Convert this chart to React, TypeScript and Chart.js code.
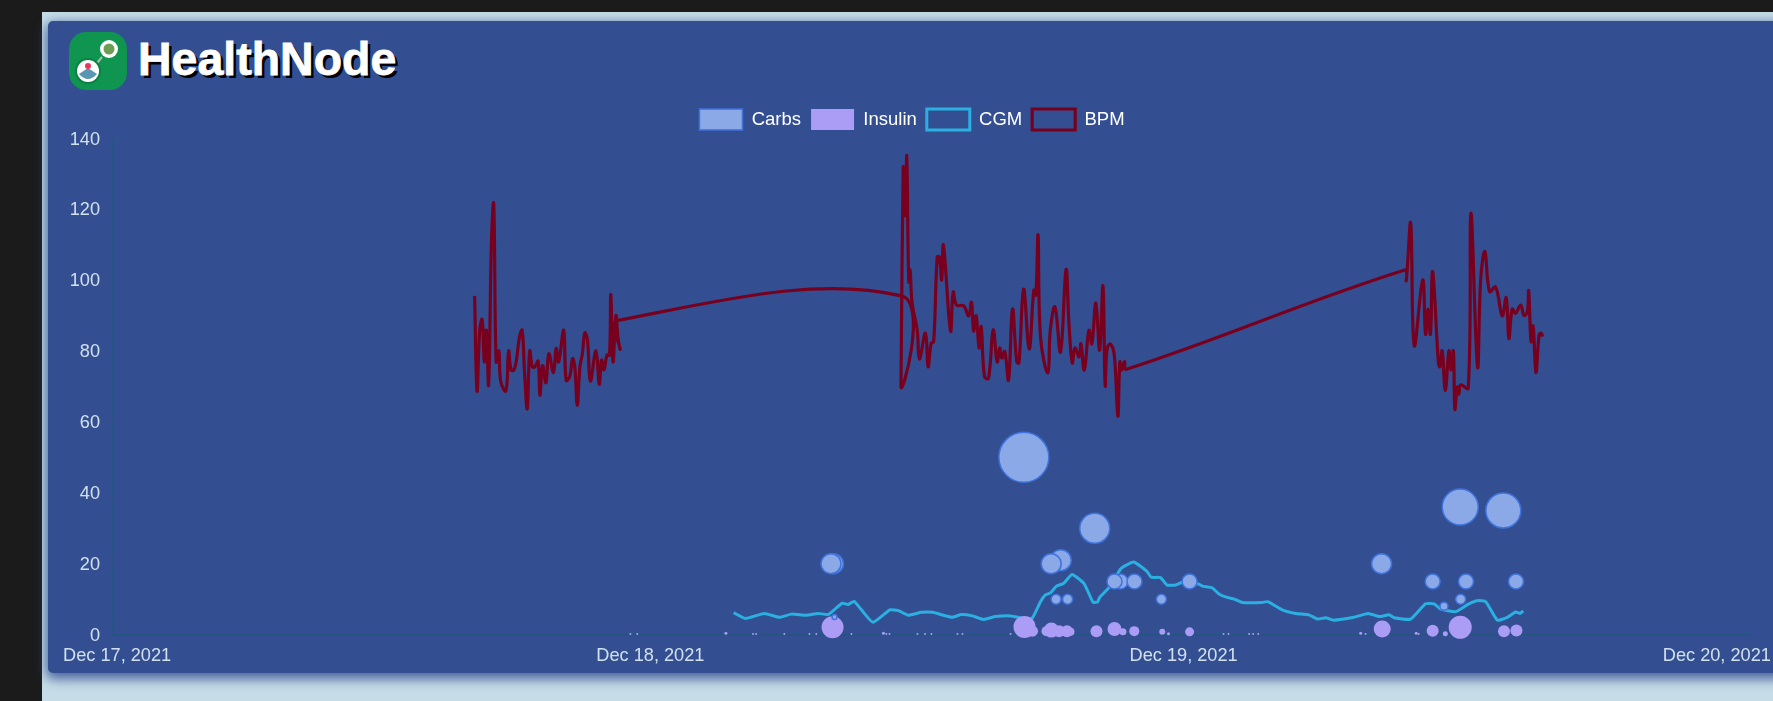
import React, { useEffect, useRef } from "react";
import { Chart, registerables } from "chart.js";

Chart.register(...registerables);

const seriesNames = ["Carbs", "Insulin", "CGM", "BPM"];
const dayLabels = ["Dec 17, 2021", "Dec 18, 2021", "Dec 19, 2021", "Dec 20, 2021"];
const yTicks = [0, 20, 40, 60, 80, 100, 120, 140];

// hours since Dec 17, 2021 00:00
const bpmHours = [
  16.09, 16.2, 16.32, 16.43, 16.53, 16.62, 16.72, 16.85, 16.95, 17.06, 17.18, 17.27, 17.5, 17.62, 17.73, 17.85, 17.96, 18.11, 18.23, 18.34,
  18.46, 18.57, 18.69, 18.8, 18.95, 19.03, 19.15, 19.3, 19.43, 19.64, 19.76, 19.87, 20.1, 20.21, 20.37, 20.5, 20.6, 20.71, 20.83, 20.94,
  21.05, 21.17, 21.3, 21.55, 21.7, 21.8, 21.91, 22.05, 22.16, 22.22, 22.32, 22.45, 22.54, 22.64, 22.54,
  35.3, 35.28, 35.38, 35.43, 35.48, 35.5, 35.54, 35.63, 35.69, 35.78, 36.01, 36.11, 36.38, 36.5, 36.64, 36.75, 36.91, 37.01, 37.11, 37.19,
  37.51, 37.63, 37.78, 38.1, 38.33, 38.45, 38.55, 38.66, 38.8, 38.89, 39.04, 39.22, 39.43, 39.61, 39.72, 39.82, 39.95, 40.12, 40.3, 40.49,
  40.59, 40.8, 41.05, 41.26, 41.35, 41.45, 41.56, 41.89, 42.0, 42.21, 42.46, 42.71, 42.84, 42.99, 43.11, 43.3, 43.38, 43.53, 43.74, 43.87,
  44.05, 44.22, 44.37, 44.47, 44.56, 44.71, 44.88, 45.04, 45.13, 45.21, 45.34, 45.43,
  57.95, 58.02, 58.22, 58.38, 58.76, 58.89, 59.0, 59.11, 59.21, 59.47, 59.54, 59.64, 59.78, 59.94, 60.03, 60.14, 60.21, 60.32, 60.39, 60.47,
  60.81, 60.93, 61.23, 61.37, 61.56, 61.77, 62.04, 62.34, 62.52, 62.64, 62.79, 62.94, 63.17, 63.32, 63.47, 63.53, 63.64, 63.73, 63.86, 64.0,
  64.09, 64.16,
];
const bpmValues = [
  95.5, 68.7, 85.8, 88.8, 76.9, 85.8, 70.5, 111.2, 121.4, 76.9, 80, 71.3, 68.7, 80, 74.6, 74.6, 76.9, 83.9, 85.8, 73.6,
  63.7, 80, 75.5, 75.5, 77.1, 67.5, 75.8, 71, 79.2, 73.9, 80.7, 76.9, 85.8, 71.7, 72.7, 77.8, 75.5, 64.6, 75.5, 79.2,
  85.1, 83, 71.5, 80, 70.6, 77.4, 74.7, 78.8, 78.8, 95.9, 76.9, 89.9, 83.9, 80.5, 88.6,
  95.5, 70, 131.5, 118.8, 131, 118, 134.9, 99.5, 102.8, 93.5, 85.9, 77.7, 85, 75.5, 82.2, 82.5, 106.5, 106.5, 100, 109.8,
  85.6, 96.6, 92.9, 92.7, 89.8, 93.7, 85.6, 89.9, 80.8, 86.8, 72.7, 72.3, 85.9, 76.9, 80.8, 78, 79.8, 71.8, 91.8, 76.9,
  76.6, 97.4, 80.5, 97.1, 95.7, 112.6, 83.9, 73.8, 85.8, 92.4, 79.7, 102.9, 87.7, 76.6, 80.8, 78.3, 82, 74.6, 85.8, 82,
  93.5, 80.2, 98.3, 70.3, 80.7, 81.9, 78.8, 61.6, 76.9, 74.6, 77, 74.8,
  102.8, 99.8, 116, 81.5, 100, 84.7, 91.8, 84.7, 102.3, 76.6, 75.5, 80, 68.8, 80, 74.6, 80, 63.6, 69.8, 67.8, 70.4,
  69.5, 118.8, 75.5, 100, 108, 96.7, 98, 89.9, 95, 83.5, 91.8, 90.6, 92.9, 90, 91, 96.9, 82.6, 87, 73.9, 84.5,
  85, 84,
];

const cgmHours = [
  27.75, 28.28, 29.13, 29.81, 30.35, 31.02, 31.56, 32.01, 32.64, 32.89, 33.17, 33.5, 34.02, 34.78, 35.16, 35.61, 36.2, 36.7, 37.58, 38.0,
  38.5, 38.99, 39.53, 40.21, 40.79, 41.18, 41.56, 41.78, 42.01, 42.28, 42.61, 42.98, 43.51, 43.73, 43.93, 44.14, 44.22, 44.62, 45.16, 45.3,
  45.76, 46.36, 46.54, 46.96, 47.26, 47.64, 48.0, 48.67, 48.84, 49.29, 49.59, 49.96, 50.26, 50.64, 51.54, 51.79, 52.44, 53.04, 53.64, 54.04,
  54.39, 54.76, 55.66, 56.3, 56.82, 57.24, 57.47, 58.22, 58.89, 59.28, 59.57, 60.24, 60.84, 61.22, 61.6, 62.12, 62.57, 62.94, 63.13, 63.29,
];
const cgmValues = [
  6.2, 4.6, 6.0, 4.9, 5.8, 5.5, 6.0, 5.7, 8.9, 8.5, 9.4, 7.0, 3.5, 7.0, 6.8, 5.5, 6.3, 6.3, 4.9, 5.7,
  5.3, 4.3, 5.1, 5.3, 4.6, 4.6, 9.3, 11.2, 11.8, 13.7, 14.5, 17.0, 14.5, 11.7, 9.1, 9.3, 10.5, 13.1, 18.5, 19.2,
  20.5, 17.8, 16.2, 16.1, 14.0, 14.0, 14.9, 14.3, 13.7, 13.2, 11.5, 10.5, 10.1, 9.1, 9.1, 9.3, 7.0, 6.0, 5.6, 4.4,
  4.8, 4.1, 4.9, 6.0, 5.1, 5.6, 4.8, 4.4, 8.7, 8.7, 7.2, 6.5, 8.7, 9.6, 9.3, 4.1, 4.9, 6.4, 6.0, 6.7,
];

const carbHours = [32.24, 32.13, 32.29, 40.81, 44.0, 42.47, 42.04, 42.26, 42.78, 45.16, 44.89, 45.79, 47.0, 48.27, 56.91, 59.21, 60.71, 62.96, 60.47, 59.72, 60.45, 62.39];
const carbValues = [20, 20, 5, 50, 30, 21, 20, 10, 10, 15, 15, 15, 10, 15, 20, 15, 15, 15, 10, 8, 36, 35];
const carbRadii = [10, 10, 2.5, 25, 15, 10.5, 10, 5, 5, 7.5, 7.5, 7.5, 5, 7.5, 10, 7.5, 7.5, 7.5, 5, 4, 18, 17.5];

const insulinHours = [
  32.2, 40.84, 41.2, 41.83, 42.05, 42.4, 42.75, 42.91, 44.08, 44.89, 45.27, 45.78, 47.04, 47.32, 48.27, 56.94, 59.21, 59.78, 60.45, 62.42, 62.98,
  23.1, 23.41, 27.4, 28.62, 28.76, 30.03, 31.16, 31.47, 33.05, 34.49, 34.62, 34.76, 36.02, 36.36, 36.65, 37.82, 38.05, 40.21, 49.8, 50.02, 50.95, 51.13, 51.36, 55.97, 56.19, 58.47, 58.58,
];
const insulinValues = [
  2.1, 2.2, 1.0, 1.0, 1.3, 1.0, 1.0, 0.8, 1.0, 1.6, 0.8, 1.0, 0.8, 0.3, 0.8, 1.6, 1.1, 0.3, 2.1, 1.0, 1.2,
  0.2, 0.2, 0.4, 0.2, 0.2, 0.2, 0.2, 0.2, 0.2, 0.4, 0.2, 0.2, 0.2, 0.2, 0.2, 0.2, 0.2, 0.2, 0.2, 0.2, 0.2, 0.2, 0.2, 0.4, 0.2, 0.4, 0.2,
];
const insulinRadii = [
  11, 11, 5.5, 5, 7.5, 6, 6, 4, 6, 7, 3.5, 5, 3, 1.5, 4.5, 8.5, 6, 2.5, 11.5, 6, 6,
  1, 1, 1.5, 1, 1, 1, 1, 1, 1, 1.5, 1, 1, 1, 1, 1, 1, 1, 1, 1, 1, 1, 1, 1, 1.5, 1, 1.5, 1,
];

const FONT = "'Liberation Sans', Helvetica, Arial, sans-serif";

const tightLegend = {
  id: "tightLegend",
  beforeInit(chart: any) {
    const fit = chart.legend.fit;
    chart.legend.fit = function () {
      fit.call(this);
      this.height -= 2;
    };
  },
};

export default function App() {
  const ref = useRef<HTMLCanvasElement | null>(null);

  useEffect(() => {
    document.body.style.margin = "0";
    document.documentElement.style.overflow = "hidden";
    const line = (xs: number[], ys: number[]) => xs.map((x, i) => ({ x, y: ys[i] }));
    const bubbles = (xs: number[], ys: number[], rs: number[]) => xs.map((x, i) => ({ x, y: ys[i], r: rs[i] }));
    const chart = new Chart(ref.current as HTMLCanvasElement, {
      type: "bubble",
      plugins: [tightLegend],
      data: {
        datasets: [
          {
            type: "bubble",
            label: seriesNames[0],
            data: bubbles(carbHours, carbValues, carbRadii),
            backgroundColor: "#8aa9e6",
            borderColor: "#3f72dc",
            borderWidth: 1.5,
            clip: false,
          },
          {
            type: "bubble",
            label: seriesNames[1],
            data: bubbles(insulinHours, insulinValues, insulinRadii),
            backgroundColor: "#ab9cf5",
            borderColor: "#ab9cf5",
            borderWidth: 0,
            clip: false,
          },
          {
            type: "line",
            label: seriesNames[2],
            data: line(cgmHours, cgmValues),
            borderColor: "#2bb0e2",
            backgroundColor: "transparent",
            borderWidth: 3,
            pointRadius: 0,
            tension: 0.15,
          },
          {
            type: "line",
            label: seriesNames[3],
            data: line(bpmHours, bpmValues),
            borderColor: "#78001f",
            backgroundColor: "transparent",
            borderWidth: 3.2,
            pointRadius: 0,
            tension: 0.4,
          },
        ],
      } as any,
      options: {
        animation: false,
        responsive: false,
        layout: { padding: 0 },
        plugins: {
          tooltip: { enabled: false },
          legend: {
            position: "top",
            labels: {
              color: "#ffffff",
              boxWidth: 43,
              boxHeight: 21,
              padding: 10,
              font: { family: FONT, size: 18.5 },
            },
          },
        },
        scales: {
          x: {
            type: "linear",
            min: -0.23,
            max: 73.47,
            grid: { display: false },
            border: { display: true, color: "rgba(36,84,130,0.9)", width: 1.5 },
            afterBuildTicks: (s: any) => {
              s.ticks = dayLabels.map((_, i) => ({ value: i * 24 }));
            },
            afterFit: (s: any) => {
              s.height = 36.3;
              s.paddingLeft = 0;
              s.paddingRight = 0;
            },
            ticks: {
              autoSkip: false,
              maxRotation: 0,
              padding: 2,
              color: "#d2e0ec",
              font: { family: FONT, size: 18.2 },
              callback: (v: any) => dayLabels[Math.round(Number(v) / 24)],
            },
          },
          y: {
            min: 0,
            max: 140,
            grid: { display: false },
            border: { display: true, color: "rgba(36,84,130,0.9)", width: 1 },
            afterBuildTicks: (s: any) => {
              s.ticks = yTicks.map((value) => ({ value }));
            },
            afterFit: (s: any) => {
              s.width = 64;
            },
            ticks: {
              padding: 4,
              labelOffset: 1.5,
              color: "#d2e0ec",
              font: { family: FONT, size: 18.2 },
            },
          },
        },
      },
    } as any);
    return () => chart.destroy();
  }, []);

  return (
    <div style={{ position: "absolute", left: 0, top: 0, width: 1773, height: 701, overflow: "hidden", background: "#1b1b1b" }}>
      <div
        style={{
          position: "absolute",
          left: 42,
          top: 12,
          width: 1800,
          height: 700,
          background: "#c6dde7",
        }}
      />
      <div
        style={{
          position: "absolute",
          left: 48,
          top: 21,
          width: 1800,
          height: 652,
          borderRadius: 5,
          background: "#334f92",
          boxShadow: "0 4px 12px 2px rgba(51,79,146,0.85)",
        }}
      />
      <svg style={{ position: "absolute", left: 69, top: 32 }} width={58} height={58} viewBox="0 0 58 58">
        <rect x={0} y={0} width={58} height={58} rx={17} fill="#0f954f" />
        <line x1={28} y1={31} x2={33} y2={25} stroke="#a9bdb0" strokeWidth={2} />
        <circle cx={40} cy={17} r={9} fill="#ffffff" />
        <circle cx={40} cy={17} r={5.5} fill="#6c9f55" />
        <circle cx={19} cy={39} r={13} fill="#0b8043" />
        <circle cx={19} cy={39} r={11} fill="#ffffff" />
        <path d="M10 42 Q19 52 28 42 L19 36 Z" fill="#5a97b5" />
        <circle cx={19} cy={34} r={3} fill="#e8385a" />
      </svg>
      <div
        style={{
          position: "absolute",
          left: 138,
          top: 32,
          fontFamily: FONT,
          fontWeight: 700,
          fontSize: 46.5,
          lineHeight: "54px",
          color: "#ffffff",
          WebkitTextStroke: "0.8px #ffffff",
          textShadow: "3px 3px 0 #000000",
        }}
      >
        HealthNode
      </div>
      <canvas ref={ref} width={1728} height={572} style={{ position: "absolute", left: 48, top: 99, display: "block" }} />
    </div>
  );
}
